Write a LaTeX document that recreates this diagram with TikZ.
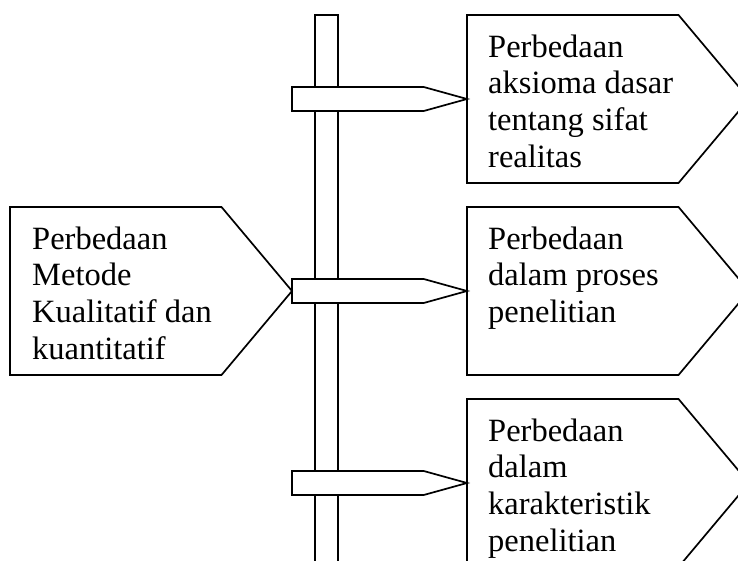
\documentclass[tikz,border=0pt]{standalone}
\usepackage{fontspec}
\setmainfont{Liberation Serif}
\usetikzlibrary{shapes.symbols,positioning}

\begin{document}
\begin{tikzpicture}[x=1pt, y=-1pt,
  box/.style={signal, signal to=east, signal pointer angle=100, draw,
              line width=1.7pt, minimum width=282pt, minimum height=168pt,
              inner sep=0pt, outer sep=0pt, fill=white},
  tag/.style={signal, signal to=east, signal pointer angle=31, draw,
              line width=1.7pt, minimum width=175pt, minimum height=24pt,
              inner sep=0pt, outer sep=0pt, fill=white},
  pole/.style={rectangle, draw, line width=1.7pt, minimum width=23pt,
               minimum height=600pt, inner sep=0pt, outer sep=0pt},
  txt/.style={anchor=north west, align=left, inner sep=0pt,
              font=\fontsize{32.5}{36.7}\selectfont}
]
\useasboundingbox (0,0) rectangle (738,561);
\fill[white] (0,0) rectangle (738,561);
\clip (0,0) rectangle (738,561);

% pole
\node[pole, anchor=north] (pole) at (326.5,15) {};

% right boxes
\node[box, anchor=west] (r1) at (467,99)  {};
\node[box, anchor=west] (r2) at (467,291) {};
\node[box, anchor=west] (r3) at (467,483) {};

% arrows from the pole
\node[tag, anchor=east] (a1) at (r1.west) {};
\node[tag, anchor=east] (a2) at (r2.west) {};
\node[tag, anchor=east] (a3) at (r3.west) {};

% left box
\node[box, anchor=east] (main) at (a2.west) {};

% texts
\node[txt] (t0) at ([xshift=22pt,yshift=64.5pt]main.west)
  {Perbedaan\\Metode\\Kualitatif dan\\kuantitatif};
\node[txt] (t1) at ([xshift=21pt,yshift=64.5pt]r1.west)
  {Perbedaan\\aksioma dasar\\tentang sifat\\realitas};
\node[txt] (t2) at ([xshift=21pt,yshift=64.5pt]r2.west)
  {Perbedaan\\dalam proses\\penelitian};
\node[txt] (t3) at ([xshift=21pt,yshift=64.5pt]r3.west)
  {Perbedaan\\dalam\\karakteristik\\penelitian};

\end{tikzpicture}
\end{document}
